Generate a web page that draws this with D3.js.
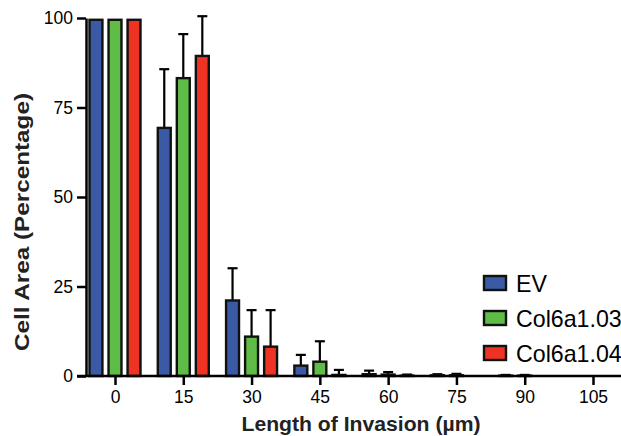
<!DOCTYPE html>
<html>
<head>
<meta charset="utf-8">
<script src="https://cdn.jsdelivr.net/npm/d3@7"></script>
<style>
  body { margin: 0; background: #fff; }
  svg { display: block; font-family: "Liberation Sans", Arial, sans-serif; }
</style>
</head>
<body>
<svg id="chart" width="621" height="436"></svg>
<script>
// data
var lengths = [0, 15, 30, 45, 60, 75, 90, 105]
var series = ['EV', 'Col6a1.03', 'Col6a1.04']
var ev       = [99.5, 69.3, 21.1, 2.9, 0.5, 0.2, 0.1, 0]
var evErr    = [0, 16.4, 9.0, 3.0, 1.0, 0.3, 0.2, 0]
var col03    = [99.5, 83.2, 11.0, 4.0, 0.4, 0.2, 0.1, 0]
var col03Err = [0, 12.3, 7.4, 5.7, 0.7, 0.4, 0.2, 0]
var col04    = [99.5, 89.4, 8.2, 0.3, 0.1, 0, 0, 0]
var col04Err = [0, 11.1, 10.2, 1.4, 0.3, 0, 0, 0]
var yTicks = [0, 25, 50, 75, 100]

var colors = ['#3a5aa6', '#5fbc46', '#ee3224']
var values = [ev, col03, col04]
var errors = [evErr, col03Err, col04Err]

var svg = d3.select('#chart')

var x = d3.scaleLinear().domain([0, 105]).range([115, 593])
var y = d3.scaleLinear().domain([0, 100]).range([376, 18])
var xSub = d3.scaleBand().domain(series).range([-25.5, 25.5]).paddingInner(0.32)

// flatten into bar records
var bars = []
lengths.forEach(function (len, i) {
  series.forEach(function (s, k) {
    bars.push({ len: len, series: s, k: k, v: values[k][i], e: errors[k][i] })
  })
})

var bw = xSub.bandwidth()

// error bars (upper only), drawn before bars
var err = svg.append('g').attr('stroke', '#000').attr('stroke-width', 2.2)
bars.filter(d => d.e > 0).forEach(function (d) {
  var cx = x(d.len) + xSub(d.series) + bw / 2
  err.append('line')
     .attr('x1', cx).attr('x2', cx)
     .attr('y1', y(d.v)).attr('y2', y(d.v + d.e))
  err.append('line')
     .attr('x1', cx - 5).attr('x2', cx + 5)
     .attr('y1', y(d.v + d.e)).attr('y2', y(d.v + d.e))
})

svg.append('g').selectAll('rect')
   .data(bars.filter(d => d.v > 0))
   .enter()
   .append('rect')
   .attr('x', d => x(d.len) + xSub(d.series))
   .attr('y', d => y(d.v))
   .attr('width', bw)
   .attr('height', d => y(0) - y(d.v))
   .attr('fill', d => colors[d.k])
   .attr('stroke', '#111')
   .attr('stroke-width', 2.4)

// axes
var yAxis = svg.append('g')
  .attr('transform', 'translate(86,0)')
  .call(d3.axisLeft(y).tickValues(yTicks).tickSize(9).tickPadding(4).tickSizeOuter(0))
yAxis.select('.domain').attr('stroke-width', 2.5)
yAxis.selectAll('.tick line').attr('stroke-width', 2.5)
yAxis.selectAll('text').attr('font-size', 17.5).attr('fill', '#000')

var xAxis = svg.append('g')
  .attr('transform', 'translate(0,376)')
  .call(d3.axisBottom(x).tickValues(lengths).tickSize(9).tickPadding(6).tickSizeOuter(0))
xAxis.select('.domain').attr('d', 'M77,0H621').attr('stroke-width', 2.5)
xAxis.selectAll('.tick line').attr('stroke-width', 2.5)
xAxis.selectAll('text').attr('font-size', 17.5).attr('fill', '#000')

// titles
svg.append('text')
   .attr('x', 361).attr('y', 431)
   .attr('text-anchor', 'middle')
   .attr('font-size', 21).attr('font-weight', 'bold').attr('fill', '#222')
   .attr('textLength', 239).attr('lengthAdjust', 'spacingAndGlyphs')
   .text('Length of Invasion (µm)')

svg.append('text')
   .attr('transform', 'translate(29,222) rotate(-90)')
   .attr('text-anchor', 'middle')
   .attr('font-size', 21).attr('font-weight', 'bold').attr('fill', '#222')
   .attr('textLength', 258).attr('lengthAdjust', 'spacingAndGlyphs')
   .text('Cell Area (Percentage)')

// legend
var legend = svg.append('g').attr('transform', 'translate(484,276)')
series.forEach(function (s, k) {
  var row = legend.append('g').attr('transform', 'translate(0,' + (k * 35) + ')')
  row.append('rect')
     .attr('width', 22).attr('height', 14)
     .attr('fill', colors[k]).attr('stroke', '#111').attr('stroke-width', 2.4)
  row.append('text')
     .attr('x', 32).attr('y', 15.5)
     .attr('font-size', 23.2).attr('fill', '#000')
     .text(s)
})
</script>
</body>
</html>
